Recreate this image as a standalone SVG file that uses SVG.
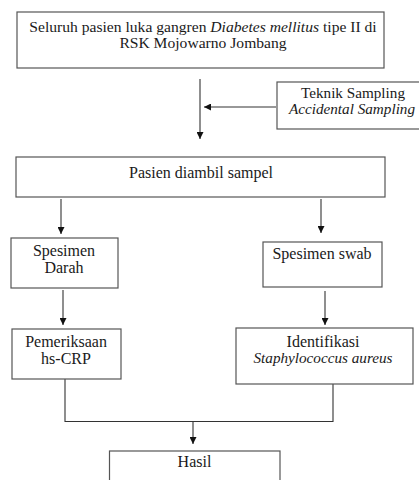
<svg xmlns="http://www.w3.org/2000/svg" width="419" height="480" viewBox="0 0 419 480">
<defs>
<marker id="ah" viewBox="0 0 10 10" refX="10" refY="5" markerWidth="7" markerHeight="7" markerUnits="userSpaceOnUse" orient="auto">
<path d="M0,0 L10,5 L0,10 Z" fill="#111"/>
</marker>
<style>
.box{fill:#fff;stroke:#555;stroke-width:1.2}
.t{font-family:'Liberation Serif','Times New Roman',serif;font-size:16px;fill:#1a1a1a;text-anchor:middle}
.s{font-size:15.6px}
.m{font-size:15.2px}
.i{font-style:italic}
.c{fill:none;stroke:#333;stroke-width:1.1}
.a{marker-end:url(#ah)}
</style>
</defs>
<rect width="419" height="480" fill="#fff"/>
<g id="connectors">
<line class="c a" x1="200" y1="79" x2="200" y2="139"/>
<line class="c a" x1="276" y1="107" x2="204" y2="107"/>
<line class="c a" x1="61" y1="199" x2="61" y2="234"/>
<line class="c a" x1="321" y1="199" x2="321" y2="233"/>
<line class="c a" x1="63" y1="290" x2="63" y2="325"/>
<line class="c a" x1="325" y1="291" x2="325" y2="325"/>
<polyline class="c" points="65,379 65,421.5 333,421.5 333,384"/>
<line class="c a" x1="193" y1="421.5" x2="193" y2="444"/>
</g>
<g id="n1">
<rect class="box" x="17" y="12" width="367" height="56"/>
<text class="t s" x="203" y="32">Seluruh pasien luka gangren <tspan class="i">Diabetes mellitus</tspan> tipe II di</text>
<text class="t s" x="203" y="48">RSK Mojowarno Jombang</text>
</g>
<g id="n2">
<rect class="box" x="277" y="82" width="150" height="47"/>
<text class="t m" x="353" y="98">Teknik Sampling</text>
<text class="t m i" x="352" y="114">Accidental Sampling</text>
</g>
<g id="n3">
<rect class="box" x="16" y="157" width="369" height="40"/>
<text class="t" x="201" y="178">Pasien diambil sampel</text>
</g>
<g id="n4">
<rect class="box" x="11" y="238" width="107" height="50"/>
<text class="t" x="64" y="256">Spesimen</text>
<text class="t" x="64" y="273">Darah</text>
</g>
<g id="n5">
<rect class="box" x="263" y="242" width="119" height="45"/>
<text class="t" x="322" y="259">Spesimen swab</text>
</g>
<g id="n6">
<rect class="box" x="12" y="329" width="109" height="50"/>
<text class="t" x="66" y="347">Pemeriksaan</text>
<text class="t" x="66" y="364">hs-CRP</text>
</g>
<g id="n7">
<rect class="box" x="236" y="328" width="177" height="56"/>
<text class="t" x="323" y="347">Identifikasi</text>
<text class="t m i" x="323" y="363">Staphylococcus aureus</text>
</g>
<g id="n8">
<rect class="box" x="109.5" y="451" width="170.5" height="40"/>
<text class="t" x="194.5" y="467">Hasil</text>
</g>
</svg>
